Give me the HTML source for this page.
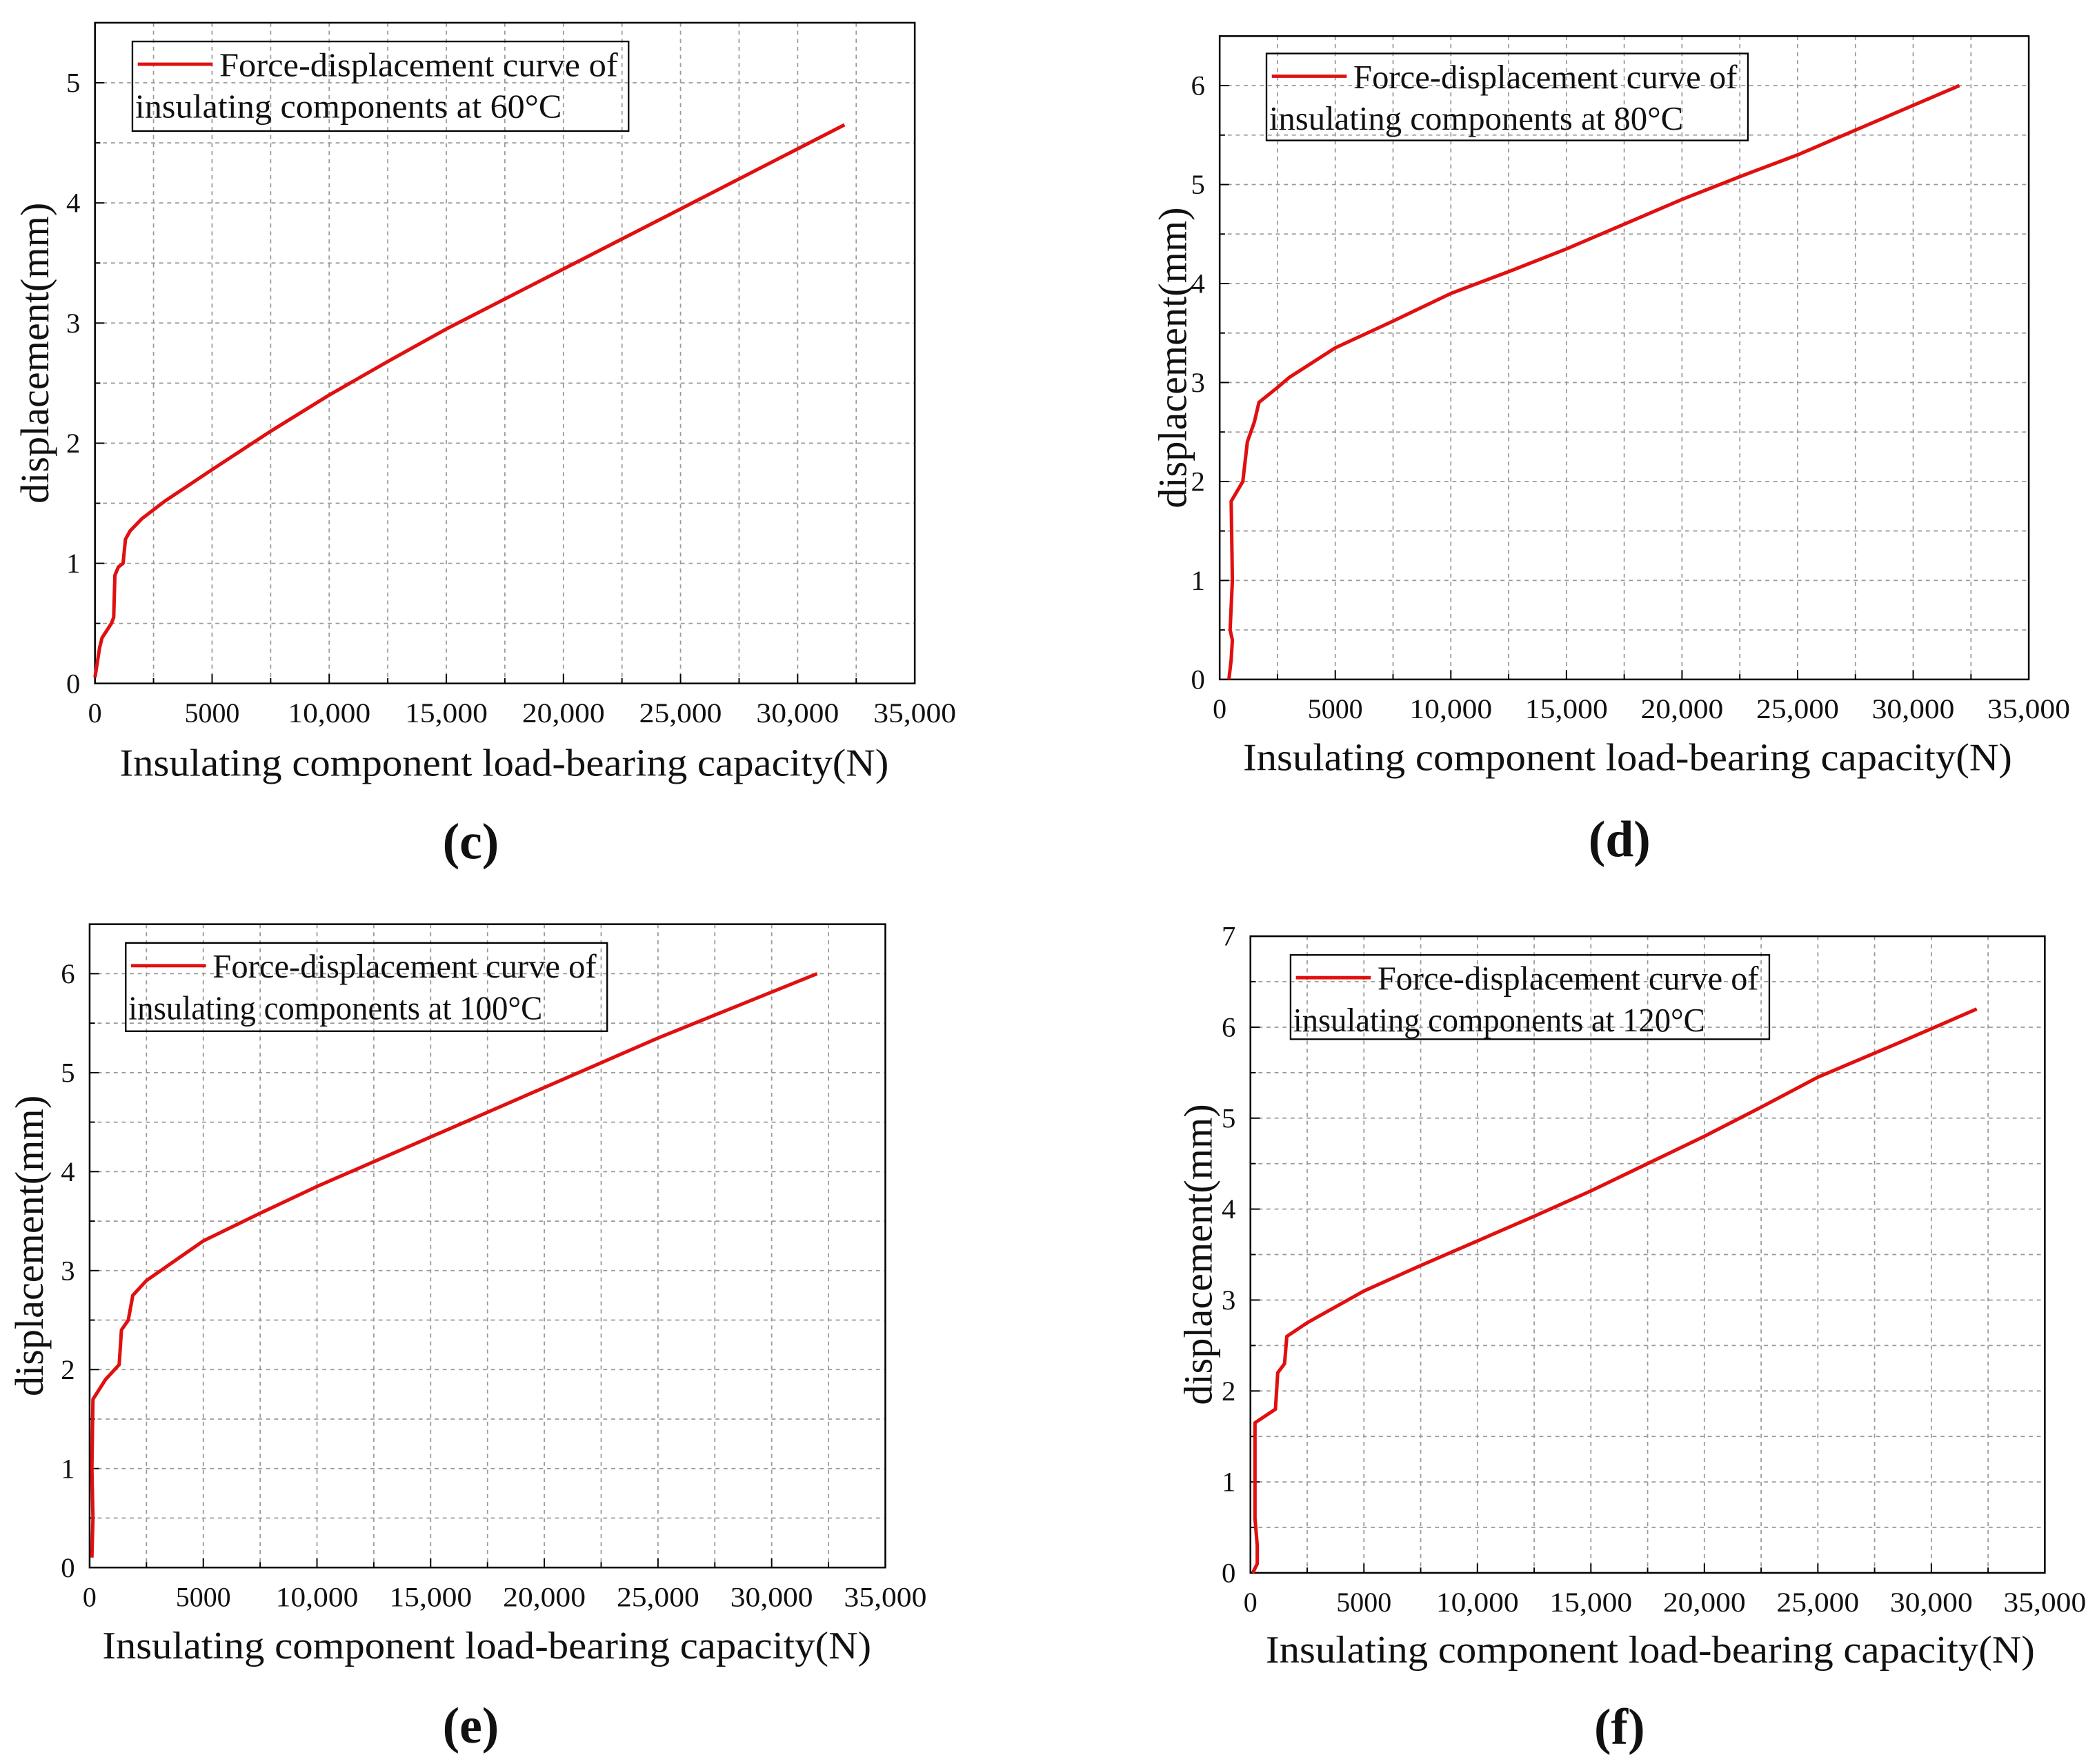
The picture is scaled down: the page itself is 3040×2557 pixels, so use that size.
<!DOCTYPE html>
<html><head><meta charset="utf-8"><style>
html,body{margin:0;padding:0;background:#fff;}
svg{display:block;}
text{font-family:"Liberation Serif",serif;fill:#111;}
</style></head><body>
<svg id="s" width="3040" height="2557" viewBox="0 0 1568 1318.9" xmlns="http://www.w3.org/2000/svg"></svg>
<script>
const S=document.getElementById('s');let h='';
const panels=[
 {x0:71,x1:684,y0:511,y1:17,ymax:5.5,ymaj:1,yn:5,leg:[99,31,470,98],t:'60°C',lab:'(c)',lx:352,ly:642,ax:377,ay:580,ylx:36,
  d:[[0,0.05],[200,0.3],[300,0.38],[700,0.5],[800,0.55],[850,0.9],[1000,0.97],[1200,1.0],[1300,1.2],[1500,1.27],[2000,1.37],[3000,1.52],[5000,1.78],[7500,2.1],[10000,2.4],[12500,2.68],[15000,2.95],[20000,3.45],[25000,3.95],[32000,4.65]]},
 {x0:912,x1:1517,y0:508,y1:27,ymax:6.5,ymaj:1,yn:6,leg:[947,40,1307,105],t:'80°C',lab:'(d)',lx:1211,ly:640,ax:1217,ay:576,ylx:887,
  d:[[400,0],[500,0.2],[550,0.4],[450,0.5],[550,1.0],[500,1.8],[1000,2.0],[1200,2.4],[1500,2.6],[1700,2.8],[2500,2.95],[3000,3.05],[5000,3.35],[7500,3.62],[10000,3.9],[12500,4.12],[15000,4.35],[17500,4.6],[20000,4.85],[22500,5.08],[25000,5.3],[28500,5.65],[32000,6.0]]},
 {x0:67,x1:662,y0:1172,y1:691,ymax:6.5,ymaj:1,yn:6,leg:[94,705,454,771],t:'100°C',lab:'(e)',lx:352,ly:1303,ax:364,ay:1240,ylx:32,
  d:[[100,0.1],[150,0.5],[100,1.0],[150,1.7],[700,1.9],[1300,2.05],[1400,2.4],[1700,2.5],[1900,2.75],[2500,2.9],[5000,3.3],[7500,3.58],[10000,3.85],[12500,4.1],[15000,4.35],[20000,4.85],[25000,5.35],[32000,6.0]]},
 {x0:935,x1:1529,y0:1176,y1:700,ymax:7,ymaj:1,yn:7,leg:[965,714,1323,777],t:'120°C',lab:'(f)',lx:1211,ly:1304,ax:1234,ay:1243,ylx:906,
  d:[[100,0],[300,0.1],[300,0.3],[200,0.6],[200,1.65],[800,1.75],[1100,1.8],[1200,2.2],[1500,2.3],[1600,2.6],[2500,2.75],[5000,3.1],[7500,3.38],[10000,3.65],[12500,3.92],[15000,4.2],[17500,4.5],[20000,4.8],[22500,5.12],[25000,5.45],[28500,5.82],[32000,6.2]]}
];
for(const p of panels){
 const X=v=>p.x0+(p.x1-p.x0)*v/35000, Y=v=>p.y0-(p.y0-p.y1)*v/p.ymax;
 for(let v=2500;v<35000;v+=2500){const x=X(v);h+=`<line x1="${x}" y1="${p.y1}" x2="${x}" y2="${p.y0}" stroke="#999" stroke-width="0.9" stroke-dasharray="3,3"/>`;}
 for(let v=0.5;v<p.ymax-0.01;v+=0.5){const y=Y(v);h+=`<line x1="${p.x0}" y1="${y}" x2="${p.x1}" y2="${y}" stroke="#999" stroke-width="0.9" stroke-dasharray="3,3"/>`;}
 for(let v=2500;v<35000;v+=2500){const x=X(v);h+=`<line x1="${x}" y1="${p.y0}" x2="${x}" y2="${p.y0-(v%5000?4:7)}" stroke="#000" stroke-width="1"/>`;}
 for(let v=0.5;v<p.ymax-0.01;v+=0.5){const y=Y(v);h+=`<line x1="${p.x0}" y1="${y}" x2="${p.x0+(Math.abs(v%1)>0.1?4:7)}" y2="${y}" stroke="#000" stroke-width="1"/>`;}
 h+=`<rect x="${p.x0}" y="${p.y1}" width="${p.x1-p.x0}" height="${p.y0-p.y1}" fill="none" stroke="#000" stroke-width="1.3"/>`;
 const xl=['0','5000','10,000','15,000','20,000','25,000','30,000','35,000'];
 xl.forEach((s,i)=>{h+=`<text x="${X(i*5000)}" y="${p.y0+29}" font-size="21" text-anchor="middle" textLength="${s.length*10.3}" lengthAdjust="spacingAndGlyphs">${s}</text>`;});
 for(let v=0;v<=p.yn;v++){h+=`<text x="${p.x0-11}" y="${Y(v)+7}" font-size="21" text-anchor="end">${v}</text>`;}
 h+=`<text x="${p.ax}" y="${p.ay}" font-size="29" text-anchor="middle" textLength="575" lengthAdjust="spacingAndGlyphs">Insulating component load-bearing capacity(N)</text>`;
 const cy=(p.y0+p.y1)/2;
 h+=`<text transform="translate(${p.ylx},${cy}) rotate(-90)" font-size="30" text-anchor="middle" textLength="225" lengthAdjust="spacingAndGlyphs">displacement(mm)</text>`;
 h+=`<text x="${p.lx}" y="${p.ly}" font-size="38" font-weight="bold" text-anchor="middle">${p.lab}</text>`;
 h+=`<polyline fill="none" stroke="#e01010" stroke-width="2.6" stroke-linejoin="round" points="${p.d.map(q=>X(q[0]).toFixed(1)+','+Y(q[1]).toFixed(1)).join(' ')}"/>`;
 const [a,b,c,d]=p.leg;
 h+=`<rect x="${a}" y="${b}" width="${c-a}" height="${d-b}" fill="none" stroke="#000" stroke-width="1.2"/>`;
 h+=`<line x1="${a+4}" y1="${b+17}" x2="${a+60}" y2="${b+17}" stroke="#e01010" stroke-width="2.5"/>`;
 h+=`<text x="${a+65}" y="${b+26}" font-size="25" textLength="${c-a-73}" lengthAdjust="spacingAndGlyphs">Force-displacement curve of</text>`;
 h+=`<text x="${a+2}" y="${b+57}" font-size="25" textLength="${(c-a)*0.86}" lengthAdjust="spacingAndGlyphs">insulating components at ${p.t}</text>`;
}
S.innerHTML=h;
</script>
</body></html>
